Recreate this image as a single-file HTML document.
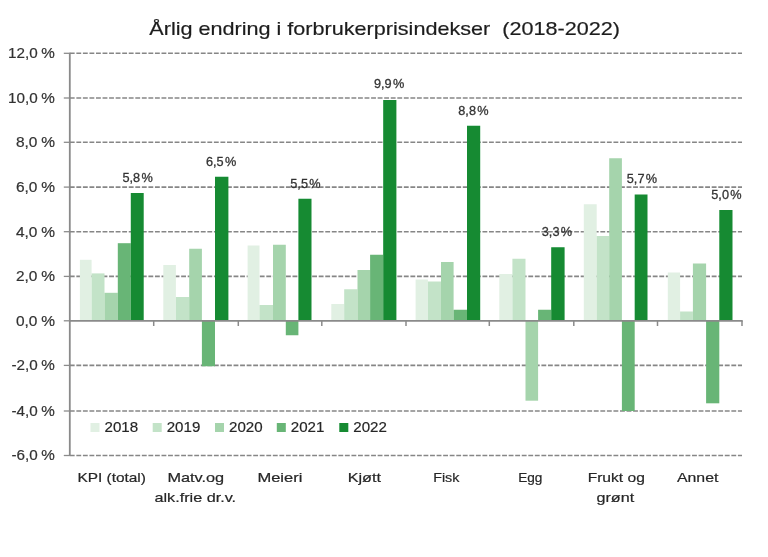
<!DOCTYPE html><html><head><meta charset="utf-8"><title>Årlig endring i forbrukerprisindekser</title>
<style>html,body{margin:0;padding:0;background:#fff;overflow:hidden}svg{display:block}text{font-family:"Liberation Sans",sans-serif;fill:#333;stroke:#333;stroke-width:0.2px}</style></head><body>
<svg width="768" height="557" viewBox="0 0 768 557">
<defs><filter id="soft" x="0" y="0" width="768" height="557" filterUnits="userSpaceOnUse"><feGaussianBlur stdDeviation="0.55"/></filter></defs>
<rect width="768" height="557" fill="#fff"/>
<g filter="url(#soft)">
<line x1="69.8" y1="53.3" x2="742.0" y2="53.3" stroke="#868686" stroke-width="1.6" stroke-dasharray="4.85 1.7"/>
<line x1="69.8" y1="98.0" x2="742.0" y2="98.0" stroke="#868686" stroke-width="1.6" stroke-dasharray="4.85 1.7"/>
<line x1="69.8" y1="142.3" x2="742.0" y2="142.3" stroke="#868686" stroke-width="1.6" stroke-dasharray="4.85 1.7"/>
<line x1="69.8" y1="187.1" x2="742.0" y2="187.1" stroke="#868686" stroke-width="1.6" stroke-dasharray="4.85 1.7"/>
<line x1="69.8" y1="231.7" x2="742.0" y2="231.7" stroke="#868686" stroke-width="1.6" stroke-dasharray="4.85 1.7"/>
<line x1="69.8" y1="276.4" x2="742.0" y2="276.4" stroke="#868686" stroke-width="1.6" stroke-dasharray="4.85 1.7"/>
<line x1="69.8" y1="365.4" x2="742.0" y2="365.4" stroke="#868686" stroke-width="1.6" stroke-dasharray="4.85 1.7"/>
<line x1="69.8" y1="411.0" x2="742.0" y2="411.0" stroke="#868686" stroke-width="1.6" stroke-dasharray="4.85 1.7"/>
<line x1="69.8" y1="455.5" x2="742.0" y2="455.5" stroke="#868686" stroke-width="1.6" stroke-dasharray="4.85 1.7"/>
<rect x="79.90" y="259.8" width="11.70" height="61.00" fill="#E1F0E3"/>
<rect x="91.60" y="273.4" width="12.90" height="47.40" fill="#C3E3C8"/>
<rect x="104.50" y="292.8" width="13.30" height="28.00" fill="#A5D4AC"/>
<rect x="117.80" y="243.2" width="13.00" height="77.60" fill="#68B576"/>
<rect x="130.80" y="193.0" width="12.90" height="127.80" fill="#128A30"/>
<rect x="163.30" y="265.0" width="12.60" height="55.80" fill="#E1F0E3"/>
<rect x="175.90" y="297.0" width="13.30" height="23.80" fill="#C3E3C8"/>
<rect x="189.20" y="248.75" width="12.70" height="72.05" fill="#A5D4AC"/>
<rect x="201.90" y="320.8" width="13.10" height="45.45" fill="#68B576"/>
<rect x="215.00" y="176.75" width="13.40" height="144.05" fill="#128A30"/>
<rect x="247.60" y="245.5" width="11.90" height="75.30" fill="#E1F0E3"/>
<rect x="259.50" y="305.0" width="13.50" height="15.80" fill="#C3E3C8"/>
<rect x="273.00" y="244.75" width="12.80" height="76.05" fill="#A5D4AC"/>
<rect x="285.80" y="320.8" width="12.60" height="14.45" fill="#68B576"/>
<rect x="298.40" y="198.75" width="13.10" height="122.05" fill="#128A30"/>
<rect x="331.30" y="304.0" width="12.90" height="16.80" fill="#E1F0E3"/>
<rect x="344.20" y="289.25" width="13.30" height="31.55" fill="#C3E3C8"/>
<rect x="357.50" y="270.0" width="12.60" height="50.80" fill="#A5D4AC"/>
<rect x="370.10" y="254.75" width="13.10" height="66.05" fill="#68B576"/>
<rect x="383.20" y="100.0" width="13.20" height="220.80" fill="#128A30"/>
<rect x="415.60" y="279.5" width="12.30" height="41.30" fill="#E1F0E3"/>
<rect x="427.90" y="281.5" width="13.10" height="39.30" fill="#C3E3C8"/>
<rect x="441.00" y="262.0" width="12.60" height="58.80" fill="#A5D4AC"/>
<rect x="453.60" y="309.75" width="13.40" height="11.05" fill="#68B576"/>
<rect x="467.00" y="125.75" width="13.20" height="195.05" fill="#128A30"/>
<rect x="499.30" y="274.0" width="13.10" height="46.80" fill="#E1F0E3"/>
<rect x="512.40" y="258.75" width="13.10" height="62.05" fill="#C3E3C8"/>
<rect x="525.50" y="320.8" width="12.60" height="79.90" fill="#A5D4AC"/>
<rect x="538.10" y="309.75" width="13.10" height="11.05" fill="#68B576"/>
<rect x="551.20" y="247.25" width="13.40" height="73.55" fill="#128A30"/>
<rect x="583.80" y="204.25" width="12.90" height="116.55" fill="#E1F0E3"/>
<rect x="596.70" y="236.0" width="12.50" height="84.80" fill="#C3E3C8"/>
<rect x="609.20" y="158.25" width="12.70" height="162.55" fill="#A5D4AC"/>
<rect x="621.90" y="320.8" width="12.80" height="90.20" fill="#68B576"/>
<rect x="634.70" y="194.5" width="12.80" height="126.30" fill="#128A30"/>
<rect x="667.80" y="272.5" width="12.30" height="48.30" fill="#E1F0E3"/>
<rect x="680.10" y="311.5" width="12.80" height="9.30" fill="#C3E3C8"/>
<rect x="692.90" y="263.5" width="13.20" height="57.30" fill="#A5D4AC"/>
<rect x="706.10" y="320.8" width="13.20" height="82.50" fill="#68B576"/>
<rect x="719.30" y="210.0" width="13.20" height="110.80" fill="#128A30"/>
<line x1="69.8" y1="52.8" x2="69.8" y2="456.0" stroke="#8a8a8a" stroke-width="1.8"/>
<line x1="69.8" y1="320.8" x2="742.7" y2="320.8" stroke="#8a8a8a" stroke-width="1.7"/>
<line x1="63.8" y1="53.3" x2="69.8" y2="53.3" stroke="#8c8c8c" stroke-width="1.3"/>
<line x1="63.8" y1="98.0" x2="69.8" y2="98.0" stroke="#8c8c8c" stroke-width="1.3"/>
<line x1="63.8" y1="142.3" x2="69.8" y2="142.3" stroke="#8c8c8c" stroke-width="1.3"/>
<line x1="63.8" y1="187.1" x2="69.8" y2="187.1" stroke="#8c8c8c" stroke-width="1.3"/>
<line x1="63.8" y1="231.7" x2="69.8" y2="231.7" stroke="#8c8c8c" stroke-width="1.3"/>
<line x1="63.8" y1="276.4" x2="69.8" y2="276.4" stroke="#8c8c8c" stroke-width="1.3"/>
<line x1="63.8" y1="320.8" x2="69.8" y2="320.8" stroke="#8c8c8c" stroke-width="1.3"/>
<line x1="63.8" y1="365.4" x2="69.8" y2="365.4" stroke="#8c8c8c" stroke-width="1.3"/>
<line x1="63.8" y1="411.0" x2="69.8" y2="411.0" stroke="#8c8c8c" stroke-width="1.3"/>
<line x1="63.8" y1="455.5" x2="69.8" y2="455.5" stroke="#8c8c8c" stroke-width="1.3"/>
<line x1="153.7" y1="320.8" x2="153.7" y2="326.0" stroke="#8a8a8a" stroke-width="1.5"/>
<line x1="238.3" y1="320.8" x2="238.3" y2="326.0" stroke="#8a8a8a" stroke-width="1.5"/>
<line x1="321.8" y1="320.8" x2="321.8" y2="326.0" stroke="#8a8a8a" stroke-width="1.5"/>
<line x1="406.0" y1="320.8" x2="406.0" y2="326.0" stroke="#8a8a8a" stroke-width="1.5"/>
<line x1="489.3" y1="320.8" x2="489.3" y2="326.0" stroke="#8a8a8a" stroke-width="1.5"/>
<line x1="573.8" y1="320.8" x2="573.8" y2="326.0" stroke="#8a8a8a" stroke-width="1.5"/>
<line x1="657.5" y1="320.8" x2="657.5" y2="326.0" stroke="#8a8a8a" stroke-width="1.5"/>
<line x1="742.0" y1="320.8" x2="742.0" y2="326.0" stroke="#8a8a8a" stroke-width="1.5"/>
<text x="8.0" y="58.2" font-size="14" style="word-spacing:-0.5px" textLength="46.9" lengthAdjust="spacingAndGlyphs">12,0 %</text>
<text x="8.0" y="102.9" font-size="14" style="word-spacing:-0.5px" textLength="46.9" lengthAdjust="spacingAndGlyphs">10,0 %</text>
<text x="15.9" y="147.2" font-size="14" style="word-spacing:-0.5px" textLength="39.0" lengthAdjust="spacingAndGlyphs">8,0 %</text>
<text x="15.9" y="192.0" font-size="14" style="word-spacing:-0.5px" textLength="39.0" lengthAdjust="spacingAndGlyphs">6,0 %</text>
<text x="15.9" y="236.6" font-size="14" style="word-spacing:-0.5px" textLength="39.0" lengthAdjust="spacingAndGlyphs">4,0 %</text>
<text x="15.9" y="281.3" font-size="14" style="word-spacing:-0.5px" textLength="39.0" lengthAdjust="spacingAndGlyphs">2,0 %</text>
<text x="15.9" y="325.7" font-size="14" style="word-spacing:-0.5px" textLength="39.0" lengthAdjust="spacingAndGlyphs">0,0 %</text>
<text x="11.4" y="370.3" font-size="14" style="word-spacing:-0.5px" textLength="43.5" lengthAdjust="spacingAndGlyphs">-2,0 %</text>
<text x="11.4" y="415.9" font-size="14" style="word-spacing:-0.5px" textLength="43.5" lengthAdjust="spacingAndGlyphs">-4,0 %</text>
<text x="11.4" y="460.4" font-size="14" style="word-spacing:-0.5px" textLength="43.5" lengthAdjust="spacingAndGlyphs">-6,0 %</text>
<text x="149.3" y="35.2" font-size="18.5" xml:space="preserve" style="fill:#1f1f1f;stroke:#1f1f1f;white-space:pre" textLength="470.6" lengthAdjust="spacingAndGlyphs">Årlig endring i forbrukerprisindekser  (2018-2022)</text>
<text x="122.50" y="181.9" font-size="13.1" style="stroke-width:0.3px;word-spacing:-2.2px" lengthAdjust="spacingAndGlyphs" textLength="30.4">5,8 %</text>
<text x="205.90" y="165.8" font-size="13.1" style="stroke-width:0.3px;word-spacing:-2.2px" lengthAdjust="spacingAndGlyphs" textLength="30.4">6,5 %</text>
<text x="290.30" y="187.7" font-size="13.1" style="stroke-width:0.3px;word-spacing:-2.2px" lengthAdjust="spacingAndGlyphs" textLength="30.4">5,5 %</text>
<text x="374.00" y="88.0" font-size="13.1" style="stroke-width:0.3px;word-spacing:-2.2px" lengthAdjust="spacingAndGlyphs" textLength="30.4">9,9 %</text>
<text x="458.30" y="114.8" font-size="13.1" style="stroke-width:0.3px;word-spacing:-2.2px" lengthAdjust="spacingAndGlyphs" textLength="30.4">8,8 %</text>
<text x="541.80" y="236.0" font-size="13.1" style="stroke-width:0.3px;word-spacing:-2.2px" lengthAdjust="spacingAndGlyphs" textLength="30.4">3,3 %</text>
<text x="626.80" y="183.0" font-size="13.1" style="stroke-width:0.3px;word-spacing:-2.2px" lengthAdjust="spacingAndGlyphs" textLength="30.4">5,7 %</text>
<text x="711.30" y="198.5" font-size="13.1" style="stroke-width:0.3px;word-spacing:-2.2px" lengthAdjust="spacingAndGlyphs" textLength="30.4">5,0 %</text>
<rect x="90.5" y="423" width="9" height="9" fill="#E1F0E3"/>
<text x="104.5" y="432.3" font-size="15.3" style="fill:#262626;stroke:#262626" textLength="33.6" lengthAdjust="spacingAndGlyphs">2018</text>
<rect x="152.7" y="423" width="9" height="9" fill="#C3E3C8"/>
<text x="166.7" y="432.3" font-size="15.3" style="fill:#262626;stroke:#262626" textLength="33.6" lengthAdjust="spacingAndGlyphs">2019</text>
<rect x="215" y="423" width="9" height="9" fill="#A5D4AC"/>
<text x="229" y="432.3" font-size="15.3" style="fill:#262626;stroke:#262626" textLength="33.6" lengthAdjust="spacingAndGlyphs">2020</text>
<rect x="276.8" y="423" width="9" height="9" fill="#68B576"/>
<text x="290.8" y="432.3" font-size="15.3" style="fill:#262626;stroke:#262626" textLength="33.6" lengthAdjust="spacingAndGlyphs">2021</text>
<rect x="339.3" y="423" width="9" height="9" fill="#128A30"/>
<text x="353.3" y="432.3" font-size="15.3" style="fill:#262626;stroke:#262626" textLength="33.6" lengthAdjust="spacingAndGlyphs">2022</text>
<text x="77.4" y="481.8" font-size="13.6" style="fill:#262626;stroke:#262626" textLength="68.5" lengthAdjust="spacingAndGlyphs">KPI (total)</text>
<text x="167.4" y="481.8" font-size="13.6" style="fill:#262626;stroke:#262626" textLength="56.75" lengthAdjust="spacingAndGlyphs">Matv.og</text>
<text x="154.4" y="502.3" font-size="13.6" style="fill:#262626;stroke:#262626" textLength="81.75" lengthAdjust="spacingAndGlyphs">alk.frie dr.v.</text>
<text x="257.4" y="481.8" font-size="13.6" style="fill:#262626;stroke:#262626" textLength="45.0" lengthAdjust="spacingAndGlyphs">Meieri</text>
<text x="347.65" y="481.8" font-size="13.6" style="fill:#262626;stroke:#262626" textLength="33.25" lengthAdjust="spacingAndGlyphs">Kjøtt</text>
<text x="433.15" y="481.8" font-size="13.6" style="fill:#262626;stroke:#262626" textLength="26.25" lengthAdjust="spacingAndGlyphs">Fisk</text>
<text x="518.15" y="481.8" font-size="13.6" style="fill:#262626;stroke:#262626" textLength="24.25" lengthAdjust="spacingAndGlyphs">Egg</text>
<text x="587.65" y="481.8" font-size="13.6" style="fill:#262626;stroke:#262626" textLength="57.25" lengthAdjust="spacingAndGlyphs">Frukt og</text>
<text x="596.4" y="502.3" font-size="13.6" style="fill:#262626;stroke:#262626" textLength="37.75" lengthAdjust="spacingAndGlyphs">grønt</text>
<text x="676.9" y="481.8" font-size="13.6" style="fill:#262626;stroke:#262626" textLength="41.5" lengthAdjust="spacingAndGlyphs">Annet</text>
</g>
</svg></body></html>
